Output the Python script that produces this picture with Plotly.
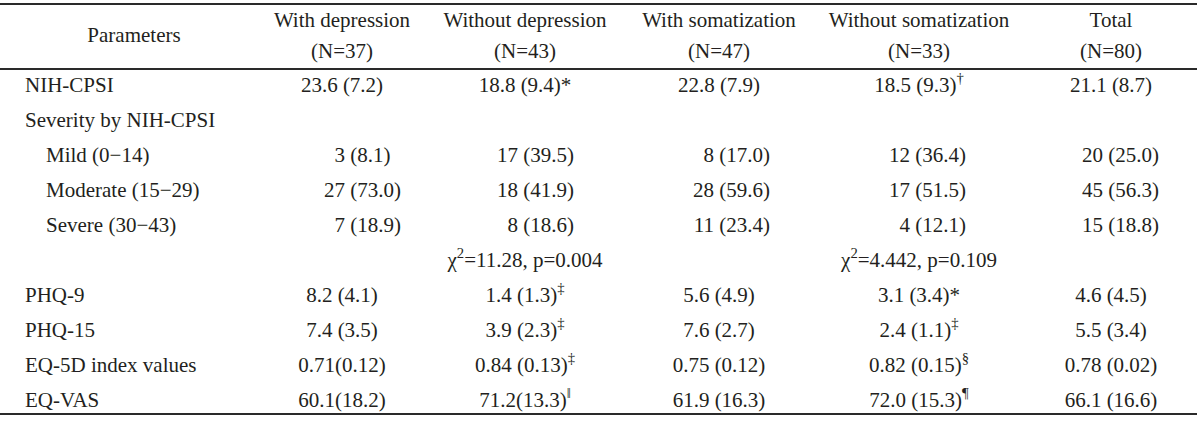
import plotly.graph_objects as go

# ---------------- data ----------------
row_labels = ["NIH-CPSI", "Severity by NIH-CPSI", "Mild (0\u221214)", "Moderate (15\u221229)",
              "Severe (30\u221243)", "", "PHQ-9", "PHQ-15", "EQ-5D index values", "EQ-VAS"]
row_indent = [0, 0, 1, 1, 1, 0, 0, 0, 0, 0]

col_titles = ["With depression", "Without depression", "With somatization",
              "Without somatization", "Total"]
col_n = ["(N=37)", "(N=43)", "(N=47)", "(N=33)", "(N=80)"]

# mean (SD) rows: NIH-CPSI, chi-square line, PHQ-9, PHQ-15, EQ-5D index, EQ-VAS
stat_rows = [0, 5, 6, 7, 8, 9]
with_depression = ["23.6 (7.2)", "", "8.2 (4.1)", "7.4 (3.5)", "0.71(0.12)", "60.1(18.2)"]
without_depression = ["18.8 (9.4)*", "\u03c7<sup>2</sup>=11.28, p=0.004",
                      "1.4 (1.3)<sup>\u2021</sup>", "3.9 (2.3)<sup>\u2021</sup>",
                      "0.84 (0.13)<sup>\u2021</sup>", "71.2(13.3)<sup>\u2016</sup>"]
with_somatization = ["22.8 (7.9)", "", "5.6 (4.9)", "7.6 (2.7)", "0.75 (0.12)", "61.9 (16.3)"]
without_somatization = ["18.5 (9.3)<sup>\u2020</sup>", "\u03c7<sup>2</sup>=4.442, p=0.109",
                        "3.1 (3.4)*", "2.4 (1.1)<sup>\u2021</sup>",
                        "0.82 (0.15)<sup>\u00a7</sup>", "72.0 (15.3)<sup>\u00b6</sup>"]
total = ["21.1 (8.7)", "", "4.6 (4.5)", "5.5 (3.4)", "0.78 (0.02)", "66.1 (16.6)"]

# severity by NIH-CPSI: n (%) for Mild, Moderate, Severe
sev_rows = [2, 3, 4]
sev_n = [[3, 27, 7], [17, 18, 8], [8, 28, 11], [12, 17, 4], [20, 45, 15]]
sev_pct = [[8.1, 73.0, 18.9], [39.5, 41.9, 18.6], [17.0, 59.6, 23.4],
           [36.4, 51.5, 12.1], [25.0, 56.3, 18.8]]

columns = [with_depression, without_depression, with_somatization, without_somatization, total]

# ---------------- layout / style ----------------
W, H = 1200, 424
FONT = "Liberation Serif"
FS = 21
TXT = "#231f20"
RULE = "#2a2a2a"
col_centers = [342, 525, 719, 919, 1111]
sev_anchor = [345, 518, 714, 910, 1103]    # counts end / percentages start here
label_x = [25, 46]
params_x = 134
table_right = 1197

# vertical scale: 1 unit = one body row
y_top, y_bottom = -2.486, 9.629
hdr1, hdr2, hdr_mid = -1.857, -0.971, -1.429
line_top, line_hdr, line_bot = -2.371, -0.514, 9.343

tf = dict(family=FONT, size=FS, color=TXT)
fig = go.Figure()


def add_text(xs, ys, texts, pos):
    fig.add_trace(go.Scatter(x=xs, y=ys, mode="text", text=texts, textposition=pos,
                             textfont=tf, hoverinfo="skip", showlegend=False))


# header
add_text([params_x], [hdr_mid], ["Parameters"], "middle center")
add_text(col_centers, [hdr1] * 5, col_titles, "middle center")
add_text(col_centers, [hdr2] * 5, col_n, "middle center")

# row labels
lab = [(label_x[row_indent[i]], i, t) for i, t in enumerate(row_labels) if t]
add_text([a for a, _, _ in lab], [b for _, b, _ in lab], [c for _, _, c in lab], "middle right")

# mean (SD) cells
for ci, col in enumerate(columns):
    cells = [(stat_rows[k], v) for k, v in enumerate(col) if v]
    add_text([col_centers[ci]] * len(cells), [r for r, _ in cells], [v for _, v in cells],
             "middle center")

# severity n (%) cells: counts right-aligned, percentages follow after a space
for ci in range(len(columns)):
    add_text([sev_anchor[ci]] * 3, sev_rows, [str(n) for n in sev_n[ci]], "middle left")
    add_text([sev_anchor[ci]] * 3, sev_rows, [f"\u00a0({p:.1f})" for p in sev_pct[ci]],
             "middle right")

# horizontal rules (top, under header, bottom)
for yv, w in [(line_top, 2.2), (line_hdr, 1.8), (line_bot, 2.2)]:
    fig.add_shape(type="line", xref="x", x0=0, x1=table_right, yref="y", y0=yv, y1=yv,
                  line=dict(color=RULE, width=w))

fig.update_layout(
    width=W, height=H, margin=dict(l=0, r=0, t=0, b=0),
    paper_bgcolor="white", plot_bgcolor="white",
    xaxis=dict(range=[0, W], visible=False, fixedrange=True),
    yaxis=dict(range=[y_bottom, y_top], visible=False, fixedrange=True),
    showlegend=False,
)

fig.write_html("out.html", config={"displayModeBar": False},
               post_script="document.body.style.margin='0';document.body.style.overflow='hidden';")
